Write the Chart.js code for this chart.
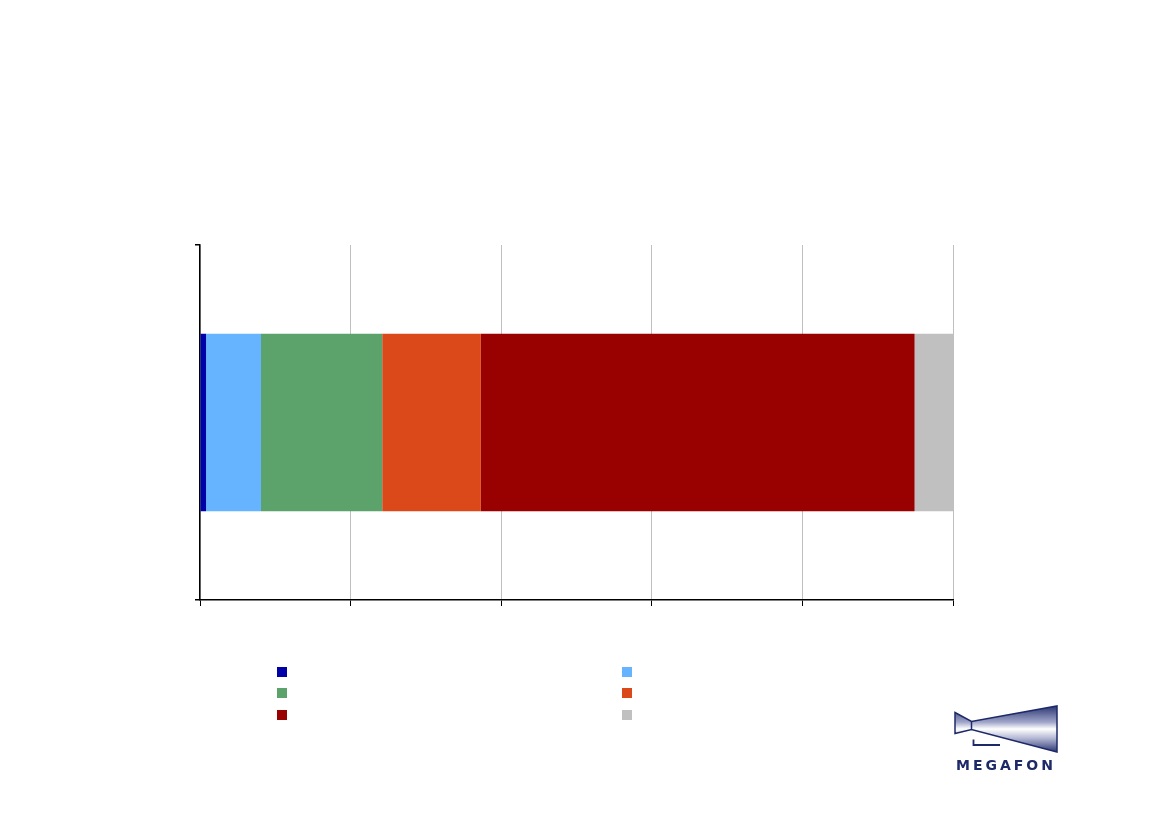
<!DOCTYPE html>
<html>
<head>
<meta charset="utf-8">
<script src="https://cdn.jsdelivr.net/npm/chart.js@4.4.1/dist/chart.umd.min.js"></script>
<style>
  body { margin: 0; background: #fff; }
  #wrap { position: relative; width: 1169px; height: 826px; }
  #share_chart { position: absolute; left: 0; top: 0; }
  #legend { position: absolute; left: 0; top: 0; }
  .key { position: absolute; width: 10px; height: 10px; }
  #logo { position: absolute; left: 945px; top: 700px; }
</style>
</head>
<body>
<div id="wrap">
  <canvas id="share_chart" width="1169" height="826"></canvas>
  <div id="legend"></div>
  <svg id="logo" width="120" height="75" viewBox="945 700 120 75">
    <defs>
      <linearGradient id="cone" x1="0" y1="0" x2="0" y2="1">
        <stop offset="0" stop-color="#2b3674"/>
        <stop offset="0.35" stop-color="#9fa5c8"/>
        <stop offset="0.5" stop-color="#ffffff"/>
        <stop offset="0.7" stop-color="#b4b8d4"/>
        <stop offset="1" stop-color="#2b3674"/>
      </linearGradient>
    </defs>
    <polygon points="955,712.5 971.5,721.5 1057,706 1057,752 971.5,729.5 955,733.5"
             fill="url(#cone)" stroke="#1e2a68" stroke-width="1.5"/>
    <line x1="971.5" y1="721.5" x2="971.5" y2="729.5" stroke="#1e2a68" stroke-width="1.5"/>
    <polyline points="973.5,739.5 973.5,745 1000,745" fill="none" stroke="#1e2a68" stroke-width="1.8"/>
    <text x="1006" y="769.5" text-anchor="middle" font-family="DejaVu Sans, sans-serif"
          font-weight="bold" font-size="14" letter-spacing="3" fill="#1e2a68">MEGAFON</text>
  </svg>
</div>

<script>
// one stacked bar, shares in percent
var categories = [""];
var series_names = ["", "", "", "", "", ""];
var series_colors = ["#0000a8", "#66b3ff", "#5ba36a", "#db4819", "#990000", "#c0c0c0"];
var share_1 = [0.8];
var share_2 = [7.3];
var share_3 = [16.1];
var share_4 = [13.1];
var share_5 = [57.6];
var share_6 = [5.1];
var x_ticks = [0, 20, 40, 60, 80, 100];

var values = [share_1, share_2, share_3, share_4, share_5, share_6];

var datasets = [];
values.forEach(function(v, i) {
  datasets.push({
    label: series_names[i],
    data: v,
    backgroundColor: series_colors[i],
    borderWidth: 0,
    barPercentage: 1.0,
    categoryPercentage: 0.5
  });
});

var ctx = document.getElementById("share_chart");
var share_chart = new Chart(ctx, {
  type: 'bar',
  data: {
    labels: categories,
    datasets: datasets
  },
  options: {
    indexAxis: 'y',
    responsive: false,
    animation: false,
    layout: {
      padding: {left: 195, right: 216, top: 245, bottom: 220}
    },
    plugins: {
      legend: {display: false},
      tooltip: {enabled: false}
    },
    scales: {
      x: {
        stacked: true,
        min: x_ticks[0],
        max: x_ticks[x_ticks.length - 1],
        afterBuildTicks: function(axis) {
          axis.ticks = x_ticks.map(function(t) { return {value: t}; });
        },
        ticks: {display: false},
        grid: {color: "#c0c0c0", tickColor: "#000", tickLength: 6, lineWidth: 1},
        border: {color: "#000", width: 1.5}
      },
      y: {
        stacked: true,
        ticks: {display: false},
        grid: {drawOnChartArea: false, tickColor: "#000", tickLength: 5, lineWidth: 1.5},
        border: {color: "#000", width: 1.5}
      }
    }
  }
});

// legend: two columns, three rows, squares only as in the picture
var legend = document.getElementById("legend");
var col_x = [277, 622];
var row_y = [667, 688, 710];
datasets.forEach(function(ds, i) {
  var key = document.createElement("div");
  key.className = "key";
  key.style.left = col_x[i % 2] + "px";
  key.style.top = row_y[Math.floor(i / 2)] + "px";
  key.style.background = ds.backgroundColor;
  key.title = ds.label;
  legend.appendChild(key);
});
</script>
</body>
</html>
